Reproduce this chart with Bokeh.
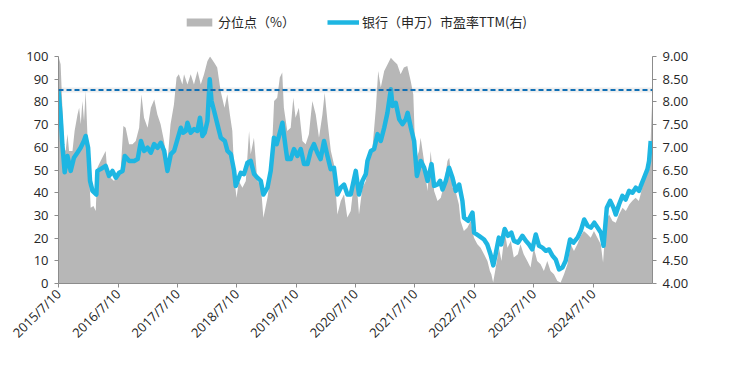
import math
import pandas as pd
from bokeh.plotting import figure
from bokeh.layouts import column
from bokeh.models import (Range1d, LinearAxis, FixedTicker, CustomJSTickFormatter,
                          NumeralTickFormatter, Span, Legend, LegendItem, ColumnDataSource)
from bokeh.embed import file_html
from bokeh.resources import INLINE

# ---------------- data ----------------
pe_dates = ["2015-07-10","2015-07-24","2015-08-03","2015-08-17","2015-09-03","2015-09-23","2015-10-13","2015-11-03",
"2015-11-23","2015-12-13","2015-12-24","2016-01-08","2016-01-20","2016-02-04","2016-02-28","2016-03-05","2016-03-25",
"2016-04-25","2016-05-16","2016-06-06","2016-06-27","2016-07-17","2016-08-07","2016-08-21","2016-09-17","2016-10-18",
"2016-11-08","2016-11-28","2016-12-18","2017-01-08","2017-01-28","2017-02-17","2017-03-10","2017-03-30","2017-04-20",
"2017-05-10","2017-05-31","2017-06-20","2017-07-11","2017-07-31","2017-08-14","2017-08-31","2017-09-10","2017-09-30",
"2017-10-21","2017-11-10","2017-11-26","2017-12-11","2017-12-25","2018-01-11","2018-01-25","2018-02-05","2018-02-21",
"2018-03-13","2018-04-03","2018-04-28","2018-05-14","2018-06-04","2018-06-24","2018-07-04","2018-07-15","2018-08-04",
"2018-08-24","2018-09-14","2018-10-04","2018-10-25","2018-11-14","2018-12-05","2018-12-21","2019-01-15","2019-02-04",
"2019-02-24","2019-03-13","2019-03-27","2019-04-17","2019-05-07","2019-05-17","2019-06-07","2019-06-27","2019-07-18",
"2019-08-08","2019-08-28","2019-09-18","2019-10-08","2019-10-28","2019-11-18","2019-12-08","2019-12-29","2020-01-19",
"2020-02-08","2020-02-28","2020-03-20","2020-04-10","2020-04-30","2020-05-21","2020-06-10","2020-07-11","2020-07-31",
"2020-08-21","2020-09-11","2020-09-21","2020-10-12","2020-11-01","2020-11-22","2020-12-12","2021-01-02","2021-01-22",
"2021-02-12","2021-02-22","2021-03-14","2021-04-04","2021-04-25","2021-05-15","2021-05-26","2021-06-15","2021-07-05",
"2021-07-22","2021-08-15","2021-09-05","2021-09-26","2021-10-20","2021-11-05","2021-11-26","2021-12-12","2021-12-27",
"2022-01-16","2022-02-05","2022-02-26","2022-03-18","2022-04-08","2022-04-28","2022-05-08","2022-06-02","2022-06-29",
"2022-07-09","2022-08-08","2022-09-08","2022-09-28","2022-10-18","2022-11-04","2022-11-18","2022-12-08","2022-12-23",
"2023-01-13","2023-02-02","2023-02-23","2023-03-11","2023-04-05","2023-05-02","2023-05-23","2023-06-12","2023-07-02",
"2023-07-23","2023-08-12","2023-09-02","2023-09-23","2023-10-13","2023-11-03","2023-11-23","2023-12-13","2024-01-03",
"2024-01-23","2024-02-19","2024-03-11","2024-04-05","2024-04-25","2024-05-16","2024-06-06","2024-06-26","2024-07-17",
"2024-08-07","2024-08-27","2024-09-12","2024-10-02","2024-10-23","2024-11-12","2024-11-26","2024-12-16","2025-01-06",
"2025-01-26","2025-02-16","2025-03-09","2025-03-29","2025-04-18","2025-04-29","2025-05-19","2025-06-09","2025-06-19",
"2025-06-29"]
pe_values = [8.26,7.65,7.05,6.45,6.81,6.48,6.77,6.88,
6.99,7.14,7.25,6.99,6.26,6.04,5.96,6.48,6.52,
6.59,6.37,6.48,6.33,6.44,6.48,6.81,6.70,6.70,
6.74,7.14,6.92,6.99,6.88,7.07,6.99,7.10,6.92,
6.48,6.85,6.92,7.18,7.43,7.32,7.36,7.54,7.32,
7.40,7.36,7.65,7.25,7.32,7.58,8.50,8.02,7.80,
7.51,7.21,7.14,6.92,6.85,6.48,6.15,6.26,6.44,
6.41,6.66,6.70,6.41,6.33,6.26,5.96,6.11,6.48,
7.21,7.07,7.25,7.54,6.99,6.74,6.74,6.96,6.81,
6.96,6.63,6.63,6.92,7.07,6.88,6.74,7.14,6.81,
6.52,6.55,5.96,6.11,6.18,5.96,5.96,6.48,5.96,
6.26,6.41,6.70,6.92,6.96,7.29,7.14,7.43,7.76,
8.28,7.91,7.98,7.62,7.51,7.62,7.76,7.43,7.14,
6.37,6.70,6.55,6.26,6.63,6.15,6.18,6.26,6.07,
6.26,6.55,6.33,6.04,6.18,5.82,5.45,5.38,5.56,
5.12,5.05,4.97,4.86,4.64,4.40,4.64,5.01,4.86,
5.20,5.05,5.12,4.94,4.90,5.05,4.94,4.86,4.75,
5.08,4.83,4.79,4.72,4.75,4.61,4.53,4.31,4.35,
4.50,4.97,4.90,5.01,5.16,5.41,5.27,5.23,5.34,
5.23,5.12,4.83,5.67,5.82,5.67,5.52,5.74,5.93,
5.85,6.04,6.00,6.11,6.04,6.15,6.33,6.52,6.70,
7.14]

pct_dates = ["2015-07-10","2015-07-23","2015-08-03","2015-08-13","2015-08-23","2015-09-03","2015-09-13","2015-10-04",
"2015-10-17","2015-11-04","2015-11-14","2015-11-24","2015-12-04","2015-12-14","2015-12-24","2016-01-08","2016-01-24",
"2016-02-10","2016-02-24","2016-03-05","2016-03-25","2016-04-15","2016-04-25","2016-05-05","2016-05-25","2016-06-16",
"2016-07-06","2016-07-26","2016-08-12","2016-08-26","2016-09-16","2016-10-07","2016-10-27","2016-11-17","2016-12-01",
"2016-12-17","2017-01-08","2017-01-28","2017-02-18","2017-03-09","2017-03-29","2017-04-19","2017-05-09","2017-05-29",
"2017-06-19","2017-07-05","2017-07-19","2017-08-10","2017-08-20","2017-09-10","2017-09-30","2017-10-20","2017-11-11",
"2017-12-01","2017-12-21","2018-01-11","2018-01-27","2018-02-22","2018-03-12","2018-04-02","2018-04-26","2018-05-13",
"2018-05-29","2018-06-13","2018-06-27","2018-07-09","2018-07-23","2018-08-14","2018-09-04","2018-09-24","2018-10-04",
"2018-10-24","2018-11-14","2018-12-05","2018-12-21","2019-01-15","2019-02-05","2019-02-25","2019-03-16","2019-04-01",
"2019-04-16","2019-04-26","2019-05-17","2019-06-07","2019-06-23","2019-07-07","2019-07-27","2019-08-18","2019-09-07",
"2019-09-27","2019-10-18","2019-11-08","2019-11-28","2019-12-19","2020-01-02","2020-01-19","2020-02-09","2020-02-28",
"2020-03-20","2020-04-10","2020-04-30","2020-05-20","2020-06-10","2020-07-10","2020-07-31","2020-08-21","2020-09-11",
"2020-10-01","2020-10-22","2020-11-12","2020-11-26","2020-12-12","2021-01-02","2021-01-23","2021-02-12","2021-03-02",
"2021-03-23","2021-04-13","2021-05-03","2021-05-24","2021-06-14","2021-06-30","2021-07-14","2021-08-04","2021-08-14",
"2021-09-04","2021-09-25","2021-10-15","2021-11-05","2021-11-26","2021-12-16","2022-01-05","2022-01-26","2022-02-06",
"2022-02-26","2022-03-17","2022-04-06","2022-04-17","2022-05-07","2022-05-28","2022-06-18","2022-07-08","2022-07-29",
"2022-08-18","2022-09-08","2022-09-29","2022-10-14","2022-10-23","2022-11-03","2022-11-19","2022-12-09","2022-12-24",
"2023-01-14","2023-01-30","2023-02-20","2023-03-10","2023-04-04","2023-04-20","2023-05-10","2023-06-01","2023-06-21",
"2023-07-11","2023-08-01","2023-08-22","2023-09-11","2023-10-02","2023-10-22","2023-11-12","2023-12-03","2023-12-23",
"2024-01-13","2024-02-03","2024-02-23","2024-03-14","2024-04-04","2024-04-24","2024-05-14","2024-06-05","2024-06-25",
"2024-07-15","2024-08-05","2024-08-26","2024-09-09","2024-09-26","2024-10-16","2024-11-06","2024-11-26","2024-12-16",
"2025-01-07","2025-01-27","2025-02-17","2025-03-07","2025-03-28","2025-04-17","2025-04-28","2025-05-18","2025-06-08",
"2025-06-24","2025-07-02","2025-07-08"]
pct_values = [100,96.6,77.4,59.8,58.4,65.9,58.4,58.4,
67.2,74.5,77.4,70.1,80.4,71.6,84.8,58.4,33.4,
34.1,31.9,51.0,54.0,56.9,58.4,49.6,46.6,45.2,
48.1,49.6,69.4,68.6,61.3,61.3,62.8,68.6,83.3,
73.0,68.6,77.4,81.1,74.5,70.1,62.8,52.5,70.1,
78.9,90.7,92.2,87.7,92.2,87.7,92.2,87.7,93.6,
87.7,92.2,98.0,100,97.3,95.1,84.8,77.4,83.3,
74.5,67.2,45.2,37.8,45.2,42.2,45.2,67.2,56.9,
64.2,45.2,43.7,29.0,37.8,48.1,80.4,81.8,90.7,
92.9,77.4,67.2,68.6,81.8,73.0,77.4,62.8,61.3,
65.7,80.4,74.5,64.2,74.5,84.0,71.6,58.4,52.5,
30.4,36.3,39.3,29.1,31.9,50.9,30.4,42.2,45.2,
54.0,59.8,77.4,93.6,86.3,93.6,96.6,99.5,98.0,
96.6,92.2,95.1,95.8,89.2,83.3,54.0,58.4,64.2,
54.0,40.7,58.4,40.7,36.3,37.8,43.7,54.0,55.4,
42.2,40.7,34.9,27.5,23.1,24.6,27.5,20.2,17.3,
15.8,12.9,9.9,5.5,4.1,0.4,7.0,15.8,9.9,
22.4,15.8,18.7,11.4,12.9,17.3,12.9,9.9,7.0,
15.8,9.9,8.5,5.5,9.9,5.5,4.1,1.1,0.4,
4.1,8.5,17.3,14.3,17.3,20.9,23.1,21.7,20.2,
23.1,20.2,17.3,9.2,27.5,30.4,27.5,26.8,30.4,
33.4,31.9,34.8,36.3,37.8,36.3,39.3,45.2,48.1,
51.1,70.1,80.4]

x_tick_dates = ["2015-07-10","2016-07-10","2017-07-10","2018-07-10","2019-07-10",
                "2020-07-10","2021-07-10","2022-07-10","2023-07-10","2024-07-10"]
left_ticks = [0,10,20,30,40,50,60,70,80,90,100]
right_ticks = [4.0,4.5,5.0,5.5,6.0,6.5,7.0,7.5,8.0,8.5,9.0]
ref_pe = 8.26

series_names = ["分位点（%）", "银行（申万）市盈率TTM(右)"]

GRAY = "#B7B7B7"
BLUE = "#1EB6E2"
axis_font = "Open Sans"
label_color = "#262626"
axis_color = "#8C8C8C"

# ---------------- legend strip ----------------
# proxy renderers (zero-size, invisible) that only supply the legend swatches
lf = figure(width=720, height=40, output_backend="svg", toolbar_location=None,
            x_axis_type=None, y_axis_type=None,
            x_range=Range1d(0, 1), y_range=Range1d(0, 1),
            min_border_left=0, min_border_right=0, min_border_top=0, min_border_bottom=0)
lf.outline_line_color = None
lf.grid.visible = False
proxy = ColumnDataSource(dict(x=[-1.0], y=[-1.0]))
lg_area = lf.varea(x="x", y1="y", y2="y", source=proxy, fill_color=GRAY, fill_alpha=1.0)
lg_line = lf.line(x="x", y="y", source=proxy, line_color=BLUE, line_width=4.5)
legend = Legend(items=[LegendItem(label=series_names[0], renderers=[lg_area]),
                       LegendItem(label=series_names[1], renderers=[lg_line])],
                orientation="horizontal", location=(125, 9),
                label_text_font="Noto Sans CJK SC", label_text_font_size="13px",
                label_text_color=label_color, glyph_width=32, glyph_height=10,
                label_standoff=3, spacing=32, padding=0, margin=0,
                border_line_color=None, background_fill_alpha=0)
lf.add_layout(legend, "center")

# ---------------- main chart ----------------
pct_src = ColumnDataSource(dict(x=pd.to_datetime(pct_dates), y=pct_values, y0=[0]*len(pct_values)))
pe_src = ColumnDataSource(dict(x=pd.to_datetime(pe_dates), y=pe_values))

p = figure(width=720, height=318, output_backend="svg", toolbar_location=None,
           x_axis_type="datetime",
           x_range=Range1d(pd.Timestamp("2015-07-10"), pd.Timestamp("2025-07-10")),
           y_range=Range1d(0, 100),
           min_border_left=58, min_border_right=68, min_border_top=16, min_border_bottom=75)
p.extra_y_ranges = {"pe": Range1d(4, 9)}
p.outline_line_color = None
p.grid.visible = False

area = p.varea(x="x", y1="y0", y2="y", source=pct_src, fill_color=GRAY, fill_alpha=1.0)

shadow = Span(location=ref_pe, dimension="width", y_range_name="pe",
              line_color="#9a9a9a", line_alpha=0.18, line_width=5)
p.add_layout(shadow)
dash = Span(location=ref_pe, dimension="width", y_range_name="pe",
            line_color="#0F6FB5", line_width=2, line_dash="5 3")
p.add_layout(dash)

line = p.line(x="x", y="y", source=pe_src, y_range_name="pe",
              line_color=BLUE, line_width=4.5, line_join="round")

ms = [pd.Timestamp(d).value // 10**6 for d in x_tick_dates]
xa = p.xaxis[0]
xa.ticker = FixedTicker(ticks=ms)
xa.formatter = CustomJSTickFormatter(code="""
const d = new Date(tick);
return d.getUTCFullYear() + '/' + (d.getUTCMonth() + 1) + '/' + d.getUTCDate();
""")
xa.major_label_orientation = math.pi / 4
xa.major_label_text_font = axis_font
xa.major_label_text_font_size = "13px"
xa.major_label_text_color = label_color
xa.axis_line_color = axis_color
xa.major_tick_line_color = axis_color
xa.major_tick_out = 4
xa.major_tick_in = 0
xa.minor_tick_line_color = None
xa.major_label_standoff = 4

ya = p.yaxis[0]
ya.ticker = FixedTicker(ticks=left_ticks)
ya.major_label_text_font = axis_font
ya.major_label_text_font_size = "13px"
ya.major_label_text_color = label_color
ya.axis_line_color = axis_color
ya.major_tick_line_color = axis_color
ya.major_tick_out = 4
ya.major_tick_in = 0
ya.minor_tick_line_color = None
ya.major_label_standoff = 6

ra = LinearAxis(y_range_name="pe", ticker=FixedTicker(ticks=right_ticks),
                formatter=NumeralTickFormatter(format="0.00"))
ra.major_label_text_font = axis_font
ra.major_label_text_font_size = "13px"
ra.major_label_text_color = label_color
ra.axis_line_color = axis_color
ra.major_tick_line_color = axis_color
ra.major_tick_out = 4
ra.major_tick_in = 0
ra.minor_tick_line_color = None
ra.major_label_standoff = 6
p.add_layout(ra, "right")

layout = column(lf, p, spacing=0)
open("out.html", "w").write(file_html(layout, INLINE))
